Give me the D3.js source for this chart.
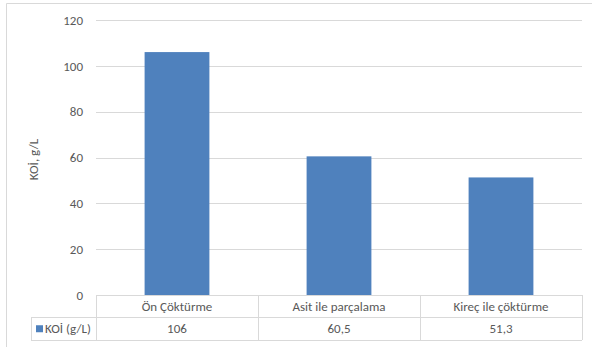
<!DOCTYPE html>
<html>
<head>
<meta charset="utf-8">
<script src="https://cdn.jsdelivr.net/npm/d3@7"></script>
<style>
  html, body { margin: 0; padding: 0; background: #fff; }
  svg { display: block; }
  text { font-family: Carlito, Lato, "Liberation Sans", sans-serif; }
</style>
</head>
<body>
<svg id="chart" width="592" height="347"></svg>
<script>
// Chart data
const categories = ["Ön Çöktürme", "Asit ile parçalama", "Kireç ile çöktürme"];
const values = [106, 60.5, 51.3];
const valueLabels = ["106", "60,5", "51,3"];
const seriesName = "KOİ (g/L)";
const yTicks = [0, 20, 40, 60, 80, 100, 120];
const yTitle = "KOİ, g/L";

const svg = d3.select("#chart");
const W = 592, H = 347;
const plot = { left: 96, right: 582, top: 20, bottom: 295 };
const rowH = 22.5;
const tableLeft = 31;
const textColor = "#595959";
const lineColor = "#d9d9d9";
const barColor = "#4f81bd";
const fontSize = "13px";

// Chart frame
svg.append("path")
  .attr("d", `M6.5,${H} V3.5 H${W}`)
  .attr("fill", "none")
  .attr("stroke", "#d9d9d9")
  .attr("stroke-width", 1);

const x = d3.scaleBand()
  .domain(categories)
  .range([plot.left, plot.right])
  .paddingInner(0.6)
  .paddingOuter(0.3);

const xCell = d3.scaleBand()
  .domain(categories)
  .range([plot.left, plot.right]);

const y = d3.scaleLinear()
  .domain([0, 120])
  .range([plot.bottom, plot.top]);

// Gridlines and tick labels
const yAxis = d3.axisLeft(y)
  .tickValues(yTicks)
  .tickSize(-(plot.right - plot.left))
  .tickPadding(13);

const gy = svg.append("g")
  .attr("transform", `translate(${plot.left},0)`)
  .call(yAxis);
gy.select(".domain").remove();
gy.selectAll(".tick line")
  .attr("stroke", lineColor)
  .attr("shape-rendering", "crispEdges");
gy.selectAll(".tick text")
  .attr("fill", textColor)
  .style("font-size", fontSize);

// Y axis title
svg.append("text")
  .attr("transform", `translate(38,${(plot.top + plot.bottom) / 2 + 2}) rotate(-90)`)
  .attr("text-anchor", "middle")
  .attr("fill", textColor)
  .style("font-size", fontSize)
  .text(yTitle);

// Bars
svg.append("g")
  .selectAll("rect")
  .data(values)
  .join("rect")
  .attr("x", (d, i) => x(categories[i]))
  .attr("width", x.bandwidth())
  .attr("y", d => y(d))
  .attr("height", d => y(0) - y(d))
  .attr("fill", barColor);

// Data table
const table = svg.append("g").attr("shape-rendering", "crispEdges");
const r1 = plot.bottom, r2 = plot.bottom + rowH, r3 = plot.bottom + 2 * rowH;

// horizontal rules
table.append("line").attr("x1", plot.left).attr("x2", plot.right).attr("y1", r1).attr("y2", r1);
table.append("line").attr("x1", tableLeft).attr("x2", plot.right).attr("y1", r2).attr("y2", r2);
table.append("line").attr("x1", tableLeft).attr("x2", plot.right).attr("y1", r3).attr("y2", r3);
// vertical rules
table.append("line").attr("x1", tableLeft).attr("x2", tableLeft).attr("y1", r2).attr("y2", r3);
[...categories.map(c => xCell(c)), plot.right].forEach(v => {
  table.append("line").attr("x1", v).attr("x2", v).attr("y1", r1).attr("y2", r3);
});
table.selectAll("line").attr("stroke", lineColor).attr("stroke-width", 1);

// category row
svg.append("g")
  .selectAll("text")
  .data(categories)
  .join("text")
  .attr("x", d => xCell(d) + xCell.bandwidth() / 2)
  .attr("y", r1 + rowH / 2 + 4.5)
  .attr("text-anchor", "middle")
  .attr("fill", textColor)
  .style("font-size", fontSize)
  .text(d => d);

// value row
svg.append("g")
  .selectAll("text")
  .data(valueLabels)
  .join("text")
  .attr("x", (d, i) => xCell(categories[i]) + xCell.bandwidth() / 2)
  .attr("y", r2 + rowH / 2 + 4.5)
  .attr("text-anchor", "middle")
  .attr("fill", textColor)
  .style("font-size", fontSize)
  .text(d => d);

// legend key + series name
svg.append("rect")
  .attr("x", 36).attr("y", r2 + rowH / 2 - 3.5)
  .attr("width", 7).attr("height", 7)
  .attr("fill", barColor);
svg.append("text")
  .attr("x", 45)
  .attr("y", r2 + rowH / 2 + 4.5)
  .attr("fill", textColor)
  .style("font-size", fontSize)
  .text(seriesName);
</script>
</body>
</html>
